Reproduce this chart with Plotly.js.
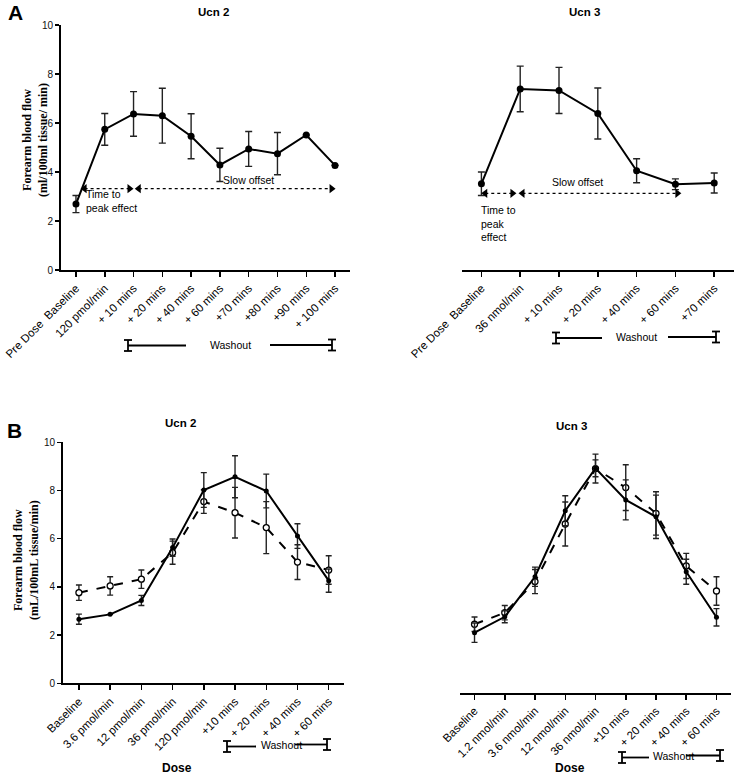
<!DOCTYPE html>
<html><head><meta charset="utf-8">
<script src="https://cdn.plot.ly/plotly-3.0.1.min.js"></script>
<style>html,body{margin:0;padding:0;background:#fff}</style>
</head><body><div id="chart" style="width:734px;height:774px"></div>
<script>
// ---------- Panel A data ----------
const aLeftLabels = ["Pre Dose  Baseline","120 pmol/min","+ 10 mins","+ 20 mins","+ 40 mins","+ 60 mins","+70 mins","+80 mins","+90 mins","+ 100 mins"];
const aLeftVals   = [2.69, 5.74, 6.37, 6.30, 5.46, 4.29, 4.94, 4.75, 5.51, 4.27];
const aLeftErr    = [0.35, 0.65, 0.91, 1.12, 0.92, 0.68, 0.71, 0.86, null, null];

const aRightLabels = ["Pre Dose  Baseline","36 nmol/min","+ 10 mins","+ 20 mins","+ 40 mins","+ 60 mins","+70 mins"];
const aRightVals   = [3.52, 7.39, 7.33, 6.39, 4.05, 3.50, 3.55];
const aRightErr    = [0.48, 0.93, 0.94, 1.04, 0.49, 0.22, 0.41];

// ---------- Panel B data ----------
const bLeftLabels = ["Baseline","3.6 pmol/min","12 pmol/min","36 pmol/min","120 pmol/min","+10 mins","+ 20 mins","+ 40 mins","+ 60 mins"];
const bLeftSolid    = [2.66, 2.86, 3.44, 5.63, 8.02, 8.57, 7.98, 6.11, 4.26];
const bLeftSolidErr = [0.21, null, 0.21, 0.36, 0.72, 0.87, 0.70, 0.51, 0.48];
const bLeftOpen     = [3.76, 4.04, 4.32, 5.42, 7.54, 7.08, 6.46, 5.03, 4.70];
const bLeftOpenErr  = [0.32, 0.38, 0.38, 0.48, 0.49, 1.05, 1.08, 0.72, 0.59];

const bRightLabels = ["Baseline","1.2 nmol/min","3.6 nmol/min","12 nmol/min","36 nmol/min","+10 mins","+ 20 mins","+ 40 mins","+ 60 mins"];
const bRightSolid    = [2.49, 3.15, 4.81, 7.55, 9.31, 8.00, 7.30, 5.02, 3.13];
const bRightSolidErr = [0.40, 0.25, 0.40, 0.62, 0.35, 0.83, 0.90, 0.52, 0.36];
const bRightOpen     = [2.84, 3.32, 4.61, 7.00, 9.30, 8.51, 7.44, 5.26, 4.22];
const bRightOpenErr  = [0.30, 0.30, 0.50, 0.91, 0.60, 0.95, 0.90, 0.52, 0.59];

const yTicks = [0, 2, 4, 6, 8, 10];

// ---------- annotation arrows (data units) ----------
const arrowALeft  = {y: 3.32, seg1: [0.30, 1.86], seg2: [2.18, 8.88]};
const arrowARight = {y: 3.13, seg1: [0.10, 0.80], seg2: [1.06, 5.05]};

// ---------- helpers ----------
const W = 734, H = 774;
const px = x => x / W;
const py = y => 1 - y / H;
const idx = arr => arr.map((_, i) => i);
const FONT = "Liberation Sans, Arial, sans-serif";
const SERIF = "Liberation Serif, Times New Roman, serif";

function errOpts(arr, w) {
  return {type: 'data', array: arr, visible: true, color: '#222', thickness: 1.4, width: w};
}
function solidTrace(vals, err, xa, ya, msize, cap) {
  return {x: idx(vals), y: vals, xaxis: xa, yaxis: ya, type: 'scatter', mode: 'lines+markers',
    line: {color: '#000', width: 2}, marker: {color: '#000', size: msize},
    error_y: errOpts(err, cap), showlegend: false, hoverinfo: 'skip'};
}
function openTrace(vals, err, xa, ya, msize, cap) {
  return {x: idx(vals), y: vals, xaxis: xa, yaxis: ya, type: 'scatter', mode: 'lines+markers',
    line: {color: '#000', width: 2, dash: 'dash'},
    marker: {color: '#fff', size: msize, line: {color: '#000', width: 1.3}},
    error_y: errOpts(err, cap), showlegend: false, hoverinfo: 'skip'};
}
function arrowTrace(seg, y, xa, ya) {
  return {x: seg, y: [y, y], xaxis: xa, yaxis: ya, type: 'scatter', mode: 'lines+markers',
    line: {color: '#000', width: 1.3, dash: 'dot'},
    marker: {color: '#000', size: 8, symbol: ['triangle-left', 'triangle-right']},
    showlegend: false, hoverinfo: 'skip'};
}

const traces = [
  solidTrace(aLeftVals, aLeftErr, 'x', 'y', 7, 3.5),
  arrowTrace(arrowALeft.seg1, arrowALeft.y, 'x', 'y'),
  arrowTrace(arrowALeft.seg2, arrowALeft.y, 'x', 'y'),
  solidTrace(aRightVals, aRightErr, 'x2', 'y2', 7, 3.5),
  arrowTrace(arrowARight.seg1, arrowARight.y, 'x2', 'y2'),
  arrowTrace(arrowARight.seg2, arrowARight.y, 'x2', 'y2'),
  openTrace(bLeftOpen, bLeftOpenErr, 'x3', 'y3', 6, 3),
  solidTrace(bLeftSolid, bLeftSolidErr, 'x3', 'y3', 5, 3),
  openTrace(bRightOpen, bRightOpenErr, 'x4', 'y4', 6, 3),
  solidTrace(bRightSolid, bRightSolidErr, 'x4', 'y4', 5, 3)
];

function xAxis(labels, domain, range, anchor, fsize) {
  return {domain: domain, range: range, anchor: anchor, tickmode: 'array',
    tickvals: idx(labels), ticktext: labels, tickangle: -45, ticklabeloverflow: 'allow',
    showline: true, linecolor: '#000', linewidth: 2, ticks: 'outside', ticklen: 5,
    tickwidth: 1.5, tickcolor: '#000', showgrid: false, zeroline: false,
    tickfont: {family: FONT, size: fsize, color: '#000'}, fixedrange: true};
}
function yAxis(domain, anchor, visible) {
  return {domain: domain, range: [0, 10], anchor: anchor, tickmode: 'array', tickvals: yTicks,
    showline: visible, linecolor: '#000', linewidth: 2, ticks: visible ? 'outside' : '',
    ticklen: 4, tickwidth: 1.5, tickcolor: '#000', showticklabels: visible,
    showgrid: false, zeroline: false, tickfont: {family: FONT, size: 10, color: '#111'},
    fixedrange: true};
}

// bracket shapes for "Washout"
function washout(xL, x1, x2, xR, yL, yR, capH) {
  const s = [];
  const ln = (a, b, c, d) => s.push({type: 'line', xref: 'paper', yref: 'paper',
    x0: px(a), x1: px(b), y0: py(c), y1: py(d), line: {color: '#000', width: 1.8}});
  ln(xL, x1, yL, yL);
  ln(x2, xR, yR, yR);
  [[xL, yL], [xR, yR]].forEach(([cx, cy]) => {
    ln(cx, cx, cy - capH, cy + capH);
    ln(cx - 4, cx + 4, cy - capH, cy - capH);
    ln(cx - 4, cx + 4, cy + capH, cy + capH);
  });
  return s;
}

const shapes = [].concat(
  washout(128, 186, 270, 332, 345.5, 345, 5.5),
  washout(556, 602, 668, 716, 338, 337, 5.5),
  washout(227, 256, 295, 327, 746.5, 744.5, 5.5),
  washout(622, 649, 686, 720, 757.5, 755.5, 5.5)
);

function pAnn(text, x, y, size, opts) {
  return Object.assign({text: text, xref: 'paper', yref: 'paper', x: px(x), y: py(y),
    showarrow: false, xanchor: 'center', yanchor: 'middle',
    font: {family: FONT, size: size, color: '#000'}}, opts || {});
}

const annotations = [
  pAnn('<b>A</b>', 15, 12, 21),
  pAnn('<b>B</b>', 14, 430, 21),
  pAnn('<b>Ucn 2</b>', 213, 12, 11.5),
  pAnn('<b>Ucn 3</b>', 584, 12, 11.5),
  pAnn('<b>Ucn 2</b>', 180, 423, 11.5),
  pAnn('<b>Ucn 3</b>', 571, 426, 11.5),
  pAnn('Washout', 230, 345, 10.5),
  pAnn('Washout', 636, 337, 10.5),
  pAnn('Washout', 281, 745, 10.5),
  pAnn('Washout', 673, 756, 10.5),
  pAnn('<b>Dose</b>', 177, 768, 12),
  pAnn('<b>Dose</b>', 570, 768, 12),
  pAnn('<b>Forearm blood flow<br>(ml/100ml tissue/ min)</b>', 35, 140, 12,
       {textangle: -90, font: {family: SERIF, size: 12, color: '#000'}}),
  pAnn('<b>Forearm blood flow<br>(mL/100mL tissue/min)</b>', 26, 560, 12,
       {textangle: -90, font: {family: SERIF, size: 12, color: '#000'}}),
  // text near arrows (data units)
  {text: 'Time to<br>peak effect', xref: 'x', yref: 'y', x: 0.28, y: 2.82, showarrow: false,
   xanchor: 'left', yanchor: 'middle', align: 'left', font: {family: FONT, size: 10.5, color: '#000'}},
  {text: 'Slow offset', xref: 'x', yref: 'y', x: 6.0, y: 3.68, showarrow: false,
   xanchor: 'center', yanchor: 'middle', font: {family: FONT, size: 10.5, color: '#000'}},
  {text: 'Slow offset', xref: 'x2', yref: 'y2', x: 2.47, y: 3.6, showarrow: false,
   xanchor: 'center', yanchor: 'middle', font: {family: FONT, size: 10.5, color: '#000'}},
  {text: 'Time to<br>peak<br>effect', xref: 'x2', yref: 'y2', x: -0.07, y: 1.88, showarrow: false,
   xanchor: 'left', yanchor: 'middle', align: 'left', font: {family: FONT, size: 10.5, color: '#000'}}
];

const layout = {
  width: W, height: H, autosize: false,
  margin: {l: 0, r: 0, t: 0, b: 0, pad: 0},
  paper_bgcolor: '#fff', plot_bgcolor: '#fff',
  showlegend: false,
  xaxis:  xAxis(aLeftLabels,  [px(61), px(350)], [-0.52, 9.52], 'y', 11.5),
  yaxis:  yAxis([py(270), py(25)], 'x', true),
  xaxis2: xAxis(aRightLabels, [px(462), 1], [-0.5, 6.51], 'y2', 11.5),
  yaxis2: yAxis([py(270), py(25)], 'x2', false),
  xaxis3: xAxis(bLeftLabels,  [px(63), px(344)], [-0.51, 8.49], 'y3', 11.5),
  yaxis3: yAxis([py(683.3), py(442.3)], 'x3', true),
  xaxis4: xAxis(bRightLabels, [px(460), px(731)], [-0.48, 8.48], 'y4', 11.5),
  yaxis4: yAxis([py(692.7), py(451.7)], 'x4', false),
  shapes: shapes,
  annotations: annotations
};

Plotly.newPlot('chart', traces, layout, {staticPlot: true, displayModeBar: false});
</script>
</body></html>
